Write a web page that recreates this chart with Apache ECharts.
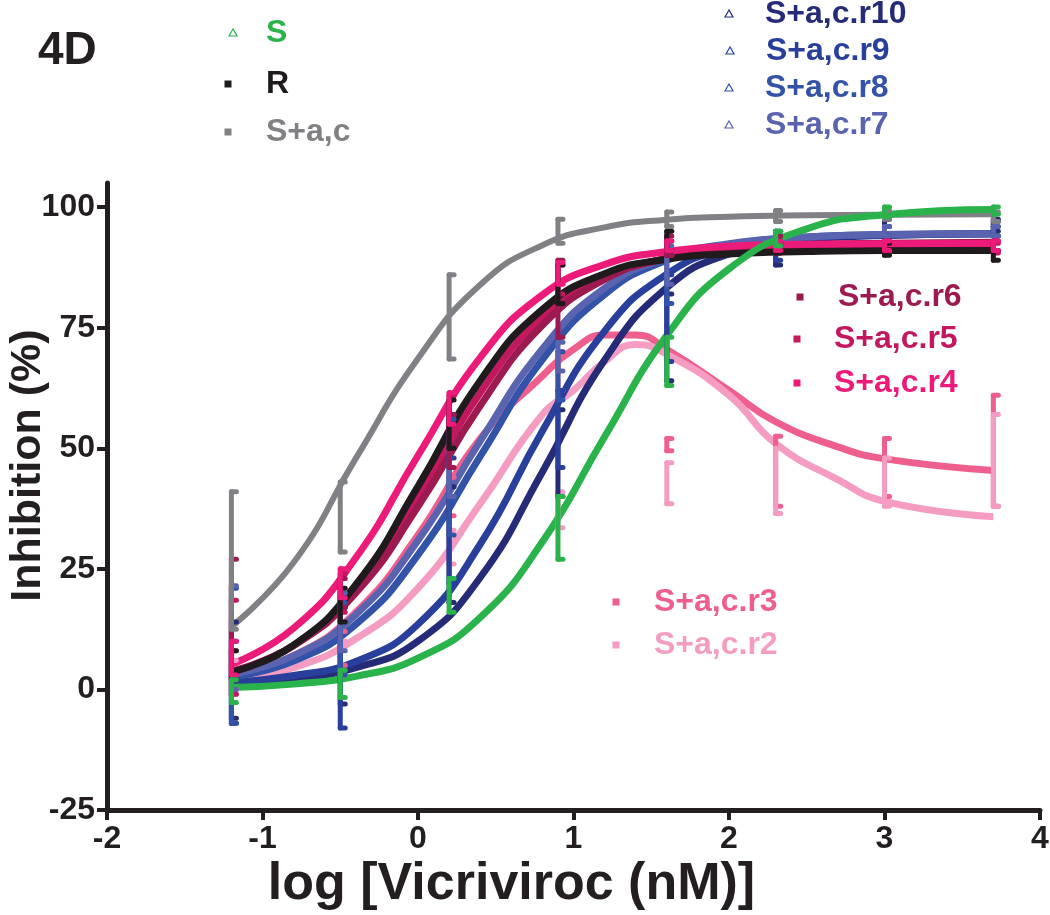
<!DOCTYPE html>
<html>
<head>
<meta charset="utf-8">
<script src="https://cdn.jsdelivr.net/npm/echarts@6/dist/echarts.min.js"></script>
<style>
  html, body { margin: 0; background: #fff; }
  #chart { width: 1050px; height: 915px; }
</style>
</head>
<body>
<div id="chart"></div>
<script>
// dose points of the measurements and sample points of the fitted curves
const doseX = [-1.2, -0.5, 0.2, 0.9, 1.6, 2.3, 3.0, 3.7];
const fitX = [-1.2, -0.8, -0.4, 0, 0.4, 0.8, 1.2, 1.6, 2.0, 2.5, 3.0, 3.7];
const bellX = [-1.2, -0.8, -0.4, 0, 0.4, 0.8, 1.0, 1.2, 1.4, 1.6, 2.0, 2.3, 2.7, 3.0, 3.7];

const xTicks = [-2, -1, 0, 1, 2, 3, 4];
const yTicks = [-25, 0, 25, 50, 75, 100];

const names = ['S', 'R', 'S+a,c', 'S+a,c.r10', 'S+a,c.r9', 'S+a,c.r8', 'S+a,c.r7',
  'S+a,c.r6', 'S+a,c.r5', 'S+a,c.r4', 'S+a,c.r3', 'S+a,c.r2'];

// fitted curves
const fitS = [0.4, 1.1, 2.7, 6.5, 14.9, 30.6, 52.4, 73.4, 87.2, 95.5, 98.4, 99.5];
const fitR = [3.6, 9.2, 21.7, 42.1, 64.0, 78.8, 86.2, 89.2, 90.3, 90.8, 91.0, 91.0];
const fitSac = [13.0, 26.3, 47.9, 68.6, 83.9, 92.1, 95.8, 97.4, 98.0, 98.3, 98.4, 98.5];
const fitR10 = [1.2, 2.3, 4.5, 10.0, 23.2, 45.1, 68.3, 83.3, 90.3, 93.3, 94.1, 94.5];
const fitR9 = [1.5, 2.9, 5.8, 13.5, 30.1, 53.6, 74.3, 86.1, 91.4, 93.6, 94.2, 94.5];
const fitR8 = [2.6, 5.9, 13.5, 27.9, 48.3, 68.4, 81.9, 89.0, 92.2, 93.8, 94.3, 94.5];
const fitR7 = [3.2, 7.0, 15.5, 30.9, 51.5, 70.6, 83.2, 89.5, 92.4, 93.8, 94.3, 94.5];
const fitR6 = [3.8, 9.1, 20.0, 37.9, 58.8, 75.5, 85.0, 89.4, 91.4, 92.2, 92.5, 92.7];
const fitR5 = [3.7, 9.1, 20.8, 40.0, 61.5, 77.2, 85.6, 89.3, 90.8, 91.4, 91.6, 91.6];
const fitR4 = [5.2, 12.7, 27.3, 48.5, 68.8, 81.8, 88.1, 90.8, 91.9, 92.3, 92.4, 92.5];
const fitR3 = [3.0, 7.0, 16.0, 32.0, 52.0, 65.0, 70.5, 73.5, 73.5, 70.5, 62.0, 55.5, 50.3, 47.8, 45.4];
const fitR2 = [1.9, 4.5, 10.5, 21.0, 38.5, 57.0, 62.0, 68.0, 71.5, 69.5, 61.0, 51.0, 43.5, 39.0, 35.8];

// error bars: [low, high] at each doseX
const errS = [[-2.7, 2], [-1.7, 4], [16, 23], [27, 40], [63, 73], [92, 95], [98, 100], [98.5, 100]];
const errR = [[2, 8], [14, 21], [50, 60], [80, 88], [91, 95], [90.5, 93], [90, 92.5], [89, 91]];
const errSac = [[12.5, 41], [28.5, 43], [68.5, 86], [92.5, 97.5], [96, 99], [97, 99.3], [97.5, 99.3], [97, 99]];
const errR10 = [[-6, 14], [-3, 17], [18, 42], [40, 58], [64, 82], [88, 92], [94, 97.5], [95, 97.5]];
const errR9 = [[-7, 10], [-8, 19], [22, 48], [46, 62], [68, 86], [89, 93], [93, 96], [94, 97]];
const errR8 = [[-7, 21], [3, 18], [32, 56], [60, 70], [80, 90], [92, 95], [94, 96], [94, 96]];
const errR7 = [[0, 21.5], [8, 20], [40, 57], [66, 72], [84, 92], [93, 95], [94, 96], [94, 96]];
const errR6 = [[2, 27], [17, 23], [46, 57], [73, 89], [90, 94], [91, 94], [91, 93], [91, 93]];
const errR5 = [[-1, 18.5], [16, 24], [54, 61], [82, 88], [90, 93], [90.5, 92.5], [90.5, 92.5], [90.5, 92.5]];
const errR4 = [[3, 10], [19, 25], [55, 61.5], [84, 88.5], [91, 93], [91, 93], [91, 93], [91, 93]];
const errR3 = [[0, 8], [5, 12], [36, 44], [62, 70], [49.5, 52], [38, 52.5], [40, 52], [38, 61]];
const errR2 = [[-1, 6], [3, 10], [26, 33], [33.5, 41], [38.5, 47], [36.5, 50], [38, 48], [38, 57]];

const colors = ['#2bb34b', '#1f1a1b', '#808184', '#262b77', '#283f9c', '#3253a7', '#5a63b0',
  '#9c1a4f', '#c2185d', '#ec1a78', '#ef5f8e', '#f59cc3'];

const fits = [fitS, fitR, fitSac, fitR10, fitR9, fitR8, fitR7, fitR6, fitR5, fitR4, fitR3, fitR2];
const errs = [errS, errR, errSac, errR10, errR9, errR8, errR7, errR6, errR5, errR4, errR3, errR2];

// drawing order, bottom to top
const drawOrder = [10, 11, 3, 4, 5, 6, 8, 7, 1, 9, 2, 0];

const FONT = "'Liberation Sans', Arial, sans-serif";
const INK = '#231f20';

function errorBar(params, api) {
  const x = api.value(0);
  const lo = api.coord([x, api.value(1)]);
  const hi = api.coord([x, api.value(2)]);
  const style = { stroke: api.visual('color'), lineWidth: 5, lineCap: 'round' };
  return {
    type: 'group',
    children: [
      { type: 'line', shape: { x1: lo[0], y1: lo[1], x2: hi[0], y2: hi[1] }, style },
      { type: 'line', shape: { x1: lo[0], y1: lo[1], x2: lo[0] + 5, y2: lo[1] }, style },
      { type: 'line', shape: { x1: hi[0], y1: hi[1], x2: hi[0] + 5, y2: hi[1] }, style }
    ]
  };
}

const series = [];
drawOrder.forEach(function (i) {
  const xs = fits[i].length === bellX.length ? bellX : fitX;
  series.push({
    name: names[i],
    type: 'custom',
    renderItem: errorBar,
    itemStyle: { color: colors[i] },
    encode: { x: 0, y: [1, 2] },
    data: errs[i].map(function (e, k) { return [doseX[k], e[0], e[1]]; }),
    z: 3
  });
  series.push({
    name: names[i],
    type: 'line',
    smooth: 0.5,
    showSymbol: false,
    lineStyle: { color: colors[i], width: i === 2 ? 6 : 7 },
    data: fits[i].map(function (v, k) { return [xs[k], v]; }),
    z: 2
  });
});

// legend blocks laid out like the figure
const legendLayout = [
  { i: 0, icon: 'tri', sx: 233, y: 33, tx: 266 },
  { i: 1, icon: 'sq', sx: 228, y: 84, tx: 266 },
  { i: 2, icon: 'sq', sx: 228, y: 132, tx: 266 },
  { i: 3, icon: 'tri', sx: 729, y: 14, tx: 765 },
  { i: 4, icon: 'tri', sx: 730, y: 51, tx: 766 },
  { i: 5, icon: 'tri', sx: 729, y: 88, tx: 765 },
  { i: 6, icon: 'tri', sx: 729, y: 125, tx: 765 },
  { i: 7, icon: 'sq', sx: 800, y: 297, tx: 838 },
  { i: 8, icon: 'sq', sx: 797, y: 339, tx: 834 },
  { i: 9, icon: 'sq', sx: 797, y: 383, tx: 834 },
  { i: 10, icon: 'sq', sx: 616, y: 602, tx: 654 },
  { i: 11, icon: 'sq', sx: 616, y: 645, tx: 654 }
];

const graphics = [{
  type: 'text', left: 38, top: 28,
  style: { text: '4D', font: 'bold 46px ' + FONT, fill: INK }
}];
legendLayout.forEach(function (it) {
  const c = colors[it.i];
  if (it.icon === 'tri') {
    graphics.push({
      type: 'polygon',
      shape: { points: [[it.sx, it.y - 4], [it.sx - 4, it.y + 3], [it.sx + 4, it.y + 3]] },
      style: { fill: '#fff', stroke: c, lineWidth: 1.2 }
    });
  } else {
    graphics.push({
      type: 'rect',
      shape: { x: it.sx - 3.5, y: it.y - 3.5, width: 7, height: 7 },
      style: { fill: c }
    });
  }
  graphics.push({
    type: 'text', x: it.tx, y: it.y,
    style: { text: names[it.i], font: 'bold 32px ' + FONT, fill: c, verticalAlign: 'middle' }
  });
});

const chart = echarts.init(document.getElementById('chart'));
chart.setOption({
  backgroundColor: '#fff',
  animation: false,
  grid: { left: 107, right: 10, top: 183, bottom: 105, containLabel: false, outerBoundsMode: 'none' },
  xAxis: {
    type: 'value',
    min: -2, max: 4, interval: 1,
    name: 'log [Vicriviroc (nM)]',
    nameLocation: 'middle',
    nameGap: 49,
    nameMoveOverlap: false,
    nameTextStyle: { fontFamily: FONT, fontWeight: 'bold', fontSize: 52, color: INK, padding: [0, 124, 0, 0] },
    axisLine: { onZero: false, lineStyle: { color: INK, width: 5 } },
    axisTick: { length: 10, lineStyle: { color: INK, width: 4 }, customValues: xTicks },
    axisLabel: { fontFamily: FONT, fontWeight: 'bold', fontSize: 32, color: INK, margin: 13, customValues: xTicks },
    splitLine: { show: false }
  },
  yAxis: {
    type: 'value',
    min: -25, max: 105,
    name: 'Inhibition (%)',
    nameLocation: 'middle',
    nameGap: 57,
    nameMoveOverlap: false,
    nameTextStyle: { fontFamily: FONT, fontWeight: 'bold', fontSize: 43, color: INK, padding: [0, 0, 0, 62] },
    axisLine: { onZero: false, lineStyle: { color: INK, width: 5 } },
    axisTick: { length: 10, lineStyle: { color: INK, width: 4 }, customValues: yTicks },
    axisLabel: { fontFamily: FONT, fontWeight: 'bold', fontSize: 32, color: INK, margin: 12, customValues: yTicks },
    splitLine: { show: false }
  },
  graphic: graphics,
  series: series
});
</script>
</body>
</html>
